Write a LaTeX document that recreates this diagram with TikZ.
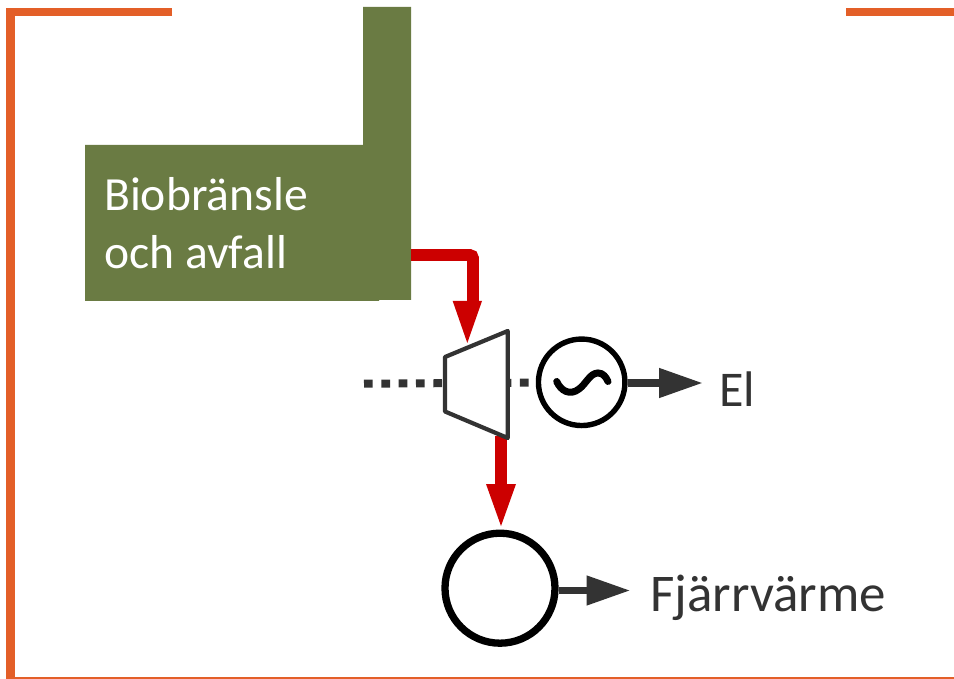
\documentclass[tikz,border=0pt]{standalone}
\usepackage{fontspec}
\setmainfont{Carlito}
\usetikzlibrary{arrows.meta,backgrounds}
\definecolor{frameor}{HTML}{E35F28}
\definecolor{plantgr}{HTML}{6A7B43}
\definecolor{heatred}{HTML}{CC0000}
\definecolor{darkgr}{HTML}{333333}
\tikzset{
  x=1pt,y=-1pt,
  frameline/.style={draw=frameor,line width=8.5pt},
  heatline/.style={draw=heatred,line width=11.6pt},
  elarrow/.style={draw=darkgr,line width=7.6pt,-{Triangle[length=44pt,width=28pt,fill=darkgr]}},
  heattip/.style={fill=heatred},
  ringnode/.style={circle,draw=black,fill=white,inner sep=0pt},
  whitelabel/.style={anchor=base west,inner sep=0pt,text=white,font=\fontsize{47.6}{56}\selectfont},
  darklabel/.style={anchor=base west,inner sep=0pt,text=darkgr,font=\fontsize{53}{60}\selectfont}
}
\begin{document}
\begin{tikzpicture}
\useasboundingbox (0,0) rectangle (954,679);
% frame
\draw[frameline] (172,12) -- (10.5,12) -- (10.5,679);
\draw[frameline] (846,12) -- (954,12);
\draw[frameor,line width=2.4pt] (10,677.8) -- (954,677.8);
% plant
\fill[plantgr] (85,145) -- (363,145) -- (363,7) -- (411,7) -- (411,300) -- (379,300) -- (379,301) -- (85,301) -- cycle;
\coordinate (plantout) at (411,255);
\node[whitelabel] (bio) at (104,211) {Biobränsle};
\node[whitelabel] (avf) at (104,269) {och avfall};
% turbine coordinates
\coordinate (tA) at (445,357);
\coordinate (tB) at (507.7,331);
\coordinate (tC) at (507.7,438);
\coordinate (tD) at (445,411.5);
\coordinate (shaftstart) at (364,383.7);
% generator and heat ring
\node[ringnode,line width=5.4pt,minimum size=86.5pt] (gen) at (581.7,382.3) {};
\node[ringnode,line width=7.3pt,minimum size=110pt] (heat) at (500,588.2) {};
% shaft, behind everything
\begin{pgfonlayer}{background}
\fill[white] (0,0) rectangle (954,679);
\draw[darkgr,line width=8pt,dash pattern=on 8.7pt off 8.63pt] (shaftstart) -- (gen.center);
\end{pgfonlayer}
\draw[black,line width=7pt,line cap=round] (556.7,381.5) .. controls (561,391) and (570,396) .. (579,389) .. controls (586,384) and (590,373) .. (598,373) .. controls (603,373) and (606,377) .. (608,381.5);
% red flows
\draw[heatline,rounded corners=3pt] (plantout) -- (473,255) -- (473,302);
\coordinate (tipL) at (452.7,301);
\coordinate (tipR) at (482,301);
\coordinate (tipT) at (467.3,343);
\fill[heattip] (tipL) -- (tipR) -- (tipT) -- cycle;
\draw[heatline] (tC) ++(-6.7,-2) -- (501,486);
\coordinate (tip2L) at (486,484);
\coordinate (tip2R) at (516,484);
\coordinate (tip2T) at (501,526);
\fill[heattip] (tip2L) -- (tip2R) -- (tip2T) -- cycle;
% turbine
\draw[darkgr,line width=4.2pt,line join=round,fill=white] (tA) -- (tB) -- (tC) -- (tD) -- cycle;
% outputs
\coordinate (elend) at (703,383);
\coordinate (fjend) at (630.5,590.5);
\draw[elarrow] (gen.east |- elend) -- (elend);
\draw[elarrow] (heat.east |- fjend) -- (fjend);
\node[darklabel,font=\fontsize{50}{60}\selectfont] (el) at (719,406.5) {El};
\node[darklabel] (fj) at (650,611.7) {Fjärrvärme};
\end{tikzpicture}
\end{document}
